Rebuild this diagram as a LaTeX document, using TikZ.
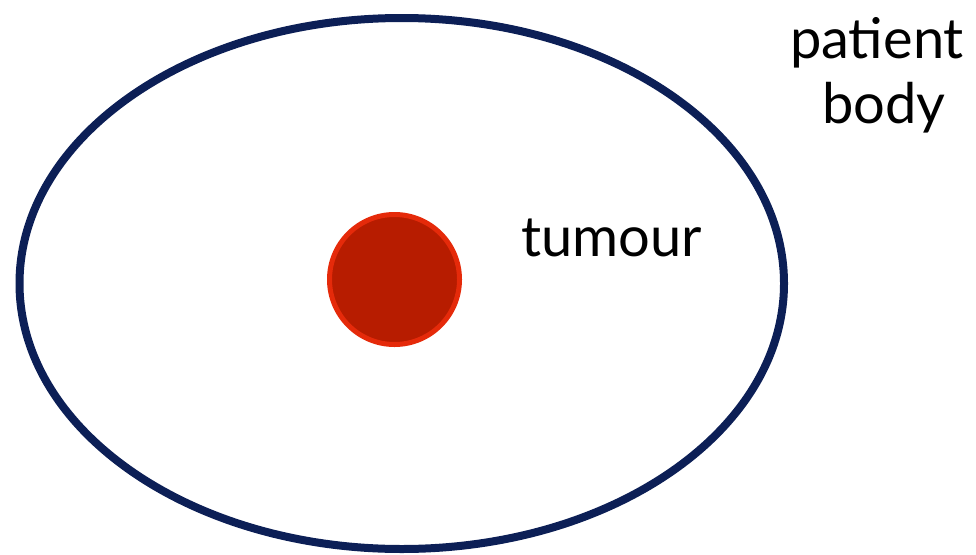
\documentclass[tikz,border=0pt]{standalone}
\usepackage{fontspec}
\setmainfont{Lato}
\definecolor{bodyblue}{HTML}{0C1F56}
\definecolor{tumourfill}{HTML}{B71C00}
\definecolor{tumouredge}{HTML}{E52A0A}
\tikzset{label text/.style={font=\fontsize{56}{62}\selectfont, inner sep=0pt}}

\begin{document}
\begin{tikzpicture}[x=1pt,y=-1pt]
			\useasboundingbox (0,0) rectangle (976,554);
			\draw[color=bodyblue, line width=8pt](401.75,283.5) ellipse[x radius=382.25, y radius=265.5];
			\draw[color=tumouredge, fill=tumourfill, line width=5pt](394.5,279.5) circle(65);
			\node[label text, anchor=base west] (tumour) at (521,256) {tumour};
			\node[label text, anchor=base] (patient) at (877,58) {patient};
			\node[label text, anchor=base] (body) at (884,123) {body};
		\end{tikzpicture}
\end{document}
